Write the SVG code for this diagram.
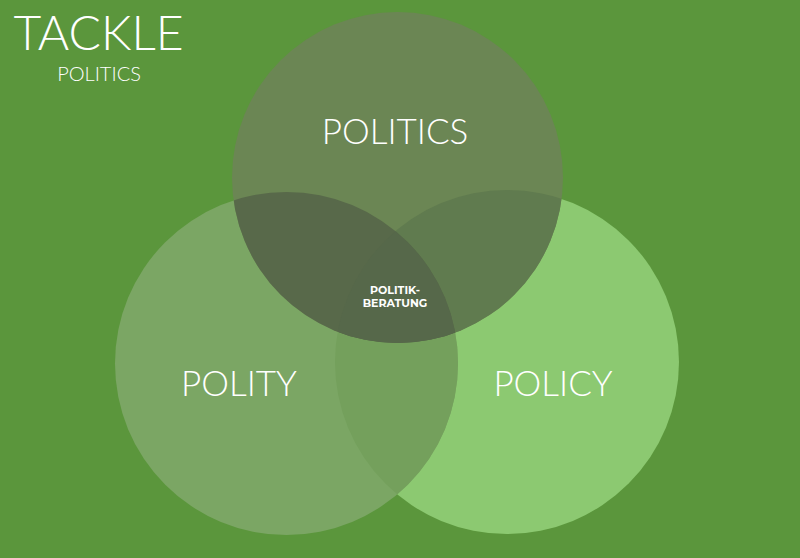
<svg xmlns="http://www.w3.org/2000/svg" width="800" height="558" viewBox="0 0 800 558">
<style>
.lbl{font-family:Lato,"Open Sans",sans-serif;font-weight:300;fill:#ffffff;text-anchor:middle}
.small{font-family:Montserrat,"Open Sans","DejaVu Sans",sans-serif;font-weight:700;fill:#ffffff;text-anchor:middle;font-size:11px}
</style>
<defs>
<clipPath id="cA"><circle cx="397.5" cy="177.5" r="165.5"/></clipPath>
<clipPath id="cB"><circle cx="286.5" cy="363.5" r="171.5"/></clipPath>
<clipPath id="cC"><circle cx="507" cy="362" r="172"/></clipPath>
</defs>
<rect width="800" height="558" fill="#5b963c"/>
<g id="title">
<text x="98.5" y="50" class="lbl" font-size="48">TACKLE</text>
<text x="99" y="81" class="lbl" font-size="20">POLITICS</text>
</g>
<g id="policy"><circle cx="507" cy="362" r="172" fill="#8cc971"/></g>
<g id="polity"><circle cx="286.5" cy="363.5" r="171.5" fill="#7ba664"/></g>
<g id="politics"><circle cx="397.5" cy="177.5" r="165.5" fill="#6b8654"/></g>
<g id="overlaps">
<g clip-path="url(#cB)"><circle cx="507" cy="362" r="172" fill="#74a05c"/></g>
<g clip-path="url(#cA)"><circle cx="507" cy="362" r="172" fill="#607b4f"/></g>
<g clip-path="url(#cA)"><circle cx="286.5" cy="363.5" r="171.5" fill="#58694a"/></g>
<g clip-path="url(#cA)"><g clip-path="url(#cB)"><circle cx="507" cy="362" r="172" fill="#56684a"/></g></g>
</g>
<g id="labels">
<text x="395" y="144" class="lbl" font-size="35">POLITICS</text>
<text x="239" y="396" class="lbl" font-size="35">POLITY</text>
<text x="553" y="396" class="lbl" font-size="35">POLICY</text>
<text x="395" y="294" class="small">POLITIK-</text>
<text x="395" y="307" class="small">BERATUNG</text>
</g>
</svg>
